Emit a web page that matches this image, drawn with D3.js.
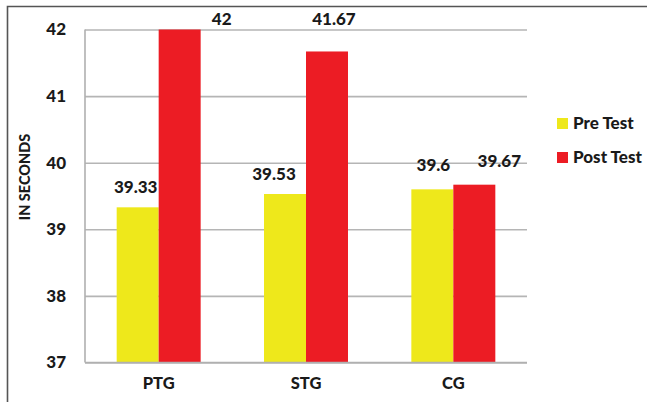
<!DOCTYPE html>
<html>
<head>
<meta charset="utf-8">
<script src="https://cdn.jsdelivr.net/npm/d3@7"></script>
<style>
  html, body { margin: 0; padding: 0; background: #fff; }
  svg { display: block; font-family: Lato, "Open Sans", sans-serif; font-weight: bold; }
</style>
</head>
<body>
<svg id="chart" width="647" height="402"></svg>
<script>
// Group labels, series names and values (seconds)
const groups = ["PTG", "STG", "CG"];
const seriesNames = ["Pre Test", "Post Test"];
const preTest = [39.33, 39.53, 39.6];
const postTest = [42, 41.67, 39.67];
const yTicks = [37, 38, 39, 40, 41, 42];
const colors = ["#EEE81B", "#EC1C24"];

// Hand-placed label nudges (dx, dy) per series/group, in px
const labelNudge = [
  [[-2, -14], [-11, -14], [1, -18]],
  [[42, -5], [7, -26], [25, -18]]
];

const svg = d3.select("#chart");
const W = 647, H = 402;
const plot = { left: 85, right: 527, top: 29.5, bottom: 362.5 };
const ink = "#1a1a1a";

// Outer frame (top and left edges)
svg.append("path")
  .attr("d", `M7.5,${H} L7.5,6.5 L${W},6.5`)
  .attr("fill", "none").attr("stroke", "#555").attr("stroke-width", 1.6);

const x = d3.scaleBand().domain(groups).range([plot.left, plot.right]);
const inner = d3.scaleBand().domain(seriesNames)
  .range([0, x.bandwidth() * 0.57]);
const groupOffset = (x.bandwidth() - x.bandwidth() * 0.57) / 2;
const y = d3.scaleLinear().domain([37, 42]).range([plot.bottom, plot.top]);

// Gridlines
svg.append("g")
  .attr("transform", `translate(${plot.left},0)`)
  .call(d3.axisLeft(y).tickValues(yTicks).tickSize(-(plot.right - plot.left)).tickFormat(""))
  .call(g => g.select(".domain").remove())
  .call(g => g.selectAll("line").attr("stroke", "#b5b5b5").attr("stroke-width", 1.6));

// Y tick labels
svg.append("g")
  .attr("transform", `translate(${plot.left},0)`)
  .call(d3.axisLeft(y).tickValues(yTicks).tickSize(0).tickPadding(19).tickFormat(d3.format("d")))
  .call(g => g.select(".domain").remove())
  .call(g => g.selectAll("text")
    .attr("font-family", "Lato, sans-serif").attr("font-weight", 900)
    .attr("font-size", 17).attr("fill", ink));

// Left axis line
svg.append("line")
  .attr("x1", plot.left).attr("x2", plot.left)
  .attr("y1", plot.top).attr("y2", plot.bottom)
  .attr("stroke", "#b0b0b0").attr("stroke-width", 1.6);

// Bars and value labels
const data = groups.map((g, i) => ({ group: g, values: [preTest[i], postTest[i]] }));
const gBars = svg.append("g");
data.forEach((d, gi) => {
  d.values.forEach((v, si) => {
    const bx = x(d.group) + groupOffset + inner(seriesNames[si]);
    gBars.append("rect")
      .attr("x", bx).attr("width", inner.bandwidth())
      .attr("y", y(v)).attr("height", y(37) - y(v))
      .attr("fill", colors[si]);
    const [dx, dy] = labelNudge[si][gi];
    svg.append("text")
      .attr("x", bx + inner.bandwidth() / 2 + dx)
      .attr("y", y(v) + dy)
      .attr("text-anchor", "middle")
      .attr("font-weight", 900)
      .attr("font-size", 17).attr("fill", ink)
      .text(d3.format("")(v));
  });
});

// Bottom axis line
svg.append("line")
  .attr("x1", plot.left).attr("x2", plot.right)
  .attr("y1", plot.bottom).attr("y2", plot.bottom)
  .attr("stroke", "#b0b0b0").attr("stroke-width", 1.6);

// X category labels
svg.append("g")
  .attr("transform", `translate(0,${plot.bottom})`)
  .call(d3.axisBottom(x).tickSize(0).tickPadding(15))
  .call(g => g.select(".domain").remove())
  .call(g => g.selectAll("text")
    .attr("font-family", "Lato, sans-serif").attr("font-weight", 900)
    .attr("font-size", 16.5).attr("fill", ink));

// Y axis title
svg.append("text")
  .attr("transform", `translate(30,${(plot.top + plot.bottom) / 2 - 19}) rotate(-90)`)
  .attr("text-anchor", "middle")
  .attr("font-weight", 900)
  .attr("font-size", 14.5).attr("fill", ink)
  .text("IN SECONDS");

// Legend
const legend = svg.append("g").attr("transform", "translate(557,0)");
seriesNames.forEach((name, i) => {
  const cy = 123 + i * 34;
  legend.append("rect")
    .attr("x", 0).attr("y", cy - 5).attr("width", 11).attr("height", 11)
    .attr("fill", colors[i]);
  legend.append("text")
    .attr("x", 16).attr("y", cy + 6)
    .attr("font-weight", 900)
    .attr("font-size", 17).attr("fill", ink)
    .text(name);
});
</script>
</body>
</html>
